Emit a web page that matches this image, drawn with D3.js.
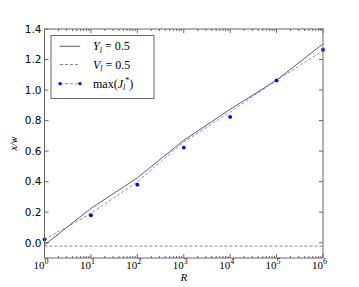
<!DOCTYPE html>
<html>
<head>
<meta charset="utf-8">
<script src="https://cdn.jsdelivr.net/npm/d3@7"></script>
<style>
  body { margin: 0; background: #fff; }
  svg { display: block; }
</style>
</head>
<body>
<div id="chart"></div>
<script>
// values, one per decade of R
const rValues = [1, 1e1, 1e2, 1e3, 1e4, 1e5, 1e6];
const yl05 = [-0.015, 0.225, 0.425, 0.671, 0.874, 1.065, 1.303];
const vl05 = [-0.022, -0.022, -0.022, -0.022, -0.022, -0.022, -0.022];
const maxJ = [0.022, 0.18, 0.38, 0.623, 0.824, 1.063, 1.264];
const maxJLine = [0.022, 0.192, 0.399, 0.66, 0.856, 1.065, 1.258];
const yTicks = [0.0, 0.2, 0.4, 0.6, 0.8, 1.0, 1.2, 1.4];
const xTickExps = [0, 1, 2, 3, 4, 5, 6];

const width = 359, height = 287;
const margin = {top: 29, right: 36, bottom: 29, left: 44.5};

const svg = d3.select("#chart").append("svg")
  .attr("width", width)
  .attr("height", height);

const x = d3.scaleLog().domain([1, 1e6]).range([margin.left, width - margin.right]);
const y = d3.scaleLinear().domain([-0.1, 1.4]).range([height - margin.bottom, margin.top]);

const serif = "'Liberation Serif', 'DejaVu Serif', serif";
const sans = "'DejaVu Sans', sans-serif";

// minor ticks for the log axis
const minor = [];
for (let e = 0; e < 6; e++) {
  for (let k = 2; k < 10; k++) minor.push(k * Math.pow(10, e));
}

const x0 = margin.left, x1 = width - margin.right;
const y0 = height - margin.bottom, y1 = margin.top;

// ticks (inward, both sides)
const ticks = svg.append("g").attr("stroke", "#000").attr("stroke-width", 0.6);
xTickExps.forEach(e => {
  const px = x(Math.pow(10, e));
  ticks.append("line").attr("x1", px).attr("x2", px).attr("y1", y0).attr("y2", y0 - 4);
  ticks.append("line").attr("x1", px).attr("x2", px).attr("y1", y1).attr("y2", y1 + 4);
});
minor.forEach(v => {
  const px = x(v);
  ticks.append("line").attr("x1", px).attr("x2", px).attr("y1", y0).attr("y2", y0 - 2);
  ticks.append("line").attr("x1", px).attr("x2", px).attr("y1", y1).attr("y2", y1 + 2);
});
yTicks.forEach(v => {
  const py = y(v);
  ticks.append("line").attr("x1", x0).attr("x2", x0 + 4).attr("y1", py).attr("y2", py);
  ticks.append("line").attr("x1", x1).attr("x2", x1 - 4).attr("y1", py).attr("y2", py);
});

// data lines
const pts = arr => arr.map((v, i) => [rValues[i], v]);
const line = d3.line().x(d => x(d[0])).y(d => y(d[1]));

const plot = svg.append("g");
plot.append("path").attr("d", line(pts(vl05)))
  .attr("fill", "none").attr("stroke", "#888").attr("stroke-width", 1)
  .attr("stroke-dasharray", "3,2");
plot.append("path").attr("d", line(pts(yl05)))
  .attr("fill", "none").attr("stroke", "#333").attr("stroke-width", 0.8);
plot.append("path").attr("d", line(pts(maxJLine)))
  .attr("fill", "none").attr("stroke", "#6666ff").attr("stroke-width", 0.8)
  .attr("stroke-dasharray", "3,2");
plot.selectAll("circle.dot").data(pts(maxJ)).join("circle")
  .attr("class", "dot")
  .attr("cx", d => x(d[0])).attr("cy", d => y(d[1]))
  .attr("r", 1.9).attr("fill", "#0000ff");

// frame
svg.append("rect")
  .attr("x", x0).attr("y", y1).attr("width", x1 - x0).attr("height", y0 - y1)
  .attr("fill", "none").attr("stroke", "#666").attr("stroke-width", 1);

// y tick labels
svg.append("g").selectAll("text").data(yTicks).join("text")
  .attr("x", x0 - 3).attr("y", d => y(d) + 3.8)
  .attr("text-anchor", "end")
  .attr("font-family", sans).attr("font-size", 10.5)
  .text(d => d.toFixed(1));

// x tick labels, 10^n
const xl = svg.append("g").selectAll("text").data(xTickExps).join("text")
  .attr("x", d => x(Math.pow(10, d)) - 3.5)
  .attr("y", y0 + 10.5)
  .attr("text-anchor", "middle")
  .attr("font-family", serif).attr("font-size", 11);
xl.append("tspan").text("10");
xl.append("tspan").attr("dy", -4.5).attr("font-size", 8).text(d => d);

// axis titles
svg.append("text")
  .attr("x", (x0 + x1) / 2).attr("y", y0 + 23)
  .attr("text-anchor", "middle")
  .attr("font-family", serif).attr("font-style", "italic").attr("font-size", 11)
  .text("R");
svg.append("text")
  .attr("transform", `translate(17,${(y0 + y1) / 2}) rotate(-90)`)
  .attr("text-anchor", "middle")
  .attr("font-family", serif).attr("font-style", "italic").attr("font-size", 10)
  .text("x/w");

// legend
const lg = svg.append("g");
lg.append("rect").attr("x", 51).attr("y", 35.5).attr("width", 103).attr("height", 63)
  .attr("fill", "#fff").attr("stroke", "#666").attr("stroke-width", 1);
const rows = [46.3, 64.5, 83.7];
lg.append("line").attr("x1", 60).attr("x2", 80).attr("y1", rows[0]).attr("y2", rows[0])
  .attr("stroke", "#333").attr("stroke-width", 0.8);
lg.append("line").attr("x1", 60).attr("x2", 80).attr("y1", rows[1]).attr("y2", rows[1])
  .attr("stroke", "#888").attr("stroke-width", 1).attr("stroke-dasharray", "3,2");
lg.append("line").attr("x1", 60).attr("x2", 80).attr("y1", rows[2]).attr("y2", rows[2])
  .attr("stroke", "#6666ff").attr("stroke-width", 0.8).attr("stroke-dasharray", "3,2");
[60, 80].forEach(px => lg.append("circle").attr("cx", px).attr("cy", rows[2]).attr("r", 1.6).attr("fill", "#0000ff"));

const label = (row, build) => {
  const t = lg.append("text").attr("x", 93).attr("y", rows[row] + 4)
    .attr("font-family", serif).attr("font-size", 12);
  build(t);
};
label(0, t => {
  t.append("tspan").attr("font-style", "italic").text("Y");
  t.append("tspan").attr("font-style", "italic").attr("font-size", 8).attr("dy", 2.5).text("l");
  t.append("tspan").attr("dy", -2.5).text(" = 0.5");
});
label(1, t => {
  t.append("tspan").attr("font-style", "italic").text("V");
  t.append("tspan").attr("font-style", "italic").attr("font-size", 8).attr("dy", 2.5).text("l");
  t.append("tspan").attr("dy", -2.5).text(" = 0.5");
});
label(2, t => {
  t.append("tspan").text("max(");
  t.append("tspan").attr("font-style", "italic").text("J");
  t.append("tspan").attr("font-style", "italic").attr("font-size", 8).attr("dy", 2.5).text("l");
  t.append("tspan").attr("font-size", 8).attr("dy", -7).text("*");
  t.append("tspan").attr("dy", 4.5).text(")");
});
</script>
</body>
</html>
